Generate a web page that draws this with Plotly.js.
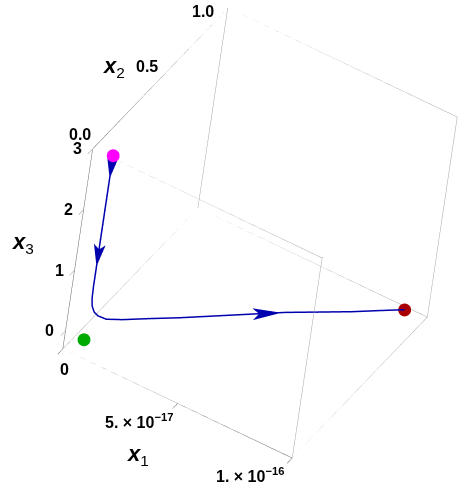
<!DOCTYPE html>
<html>
<head>
<meta charset="utf-8">
<script src="https://cdn.plot.ly/plotly-3.0.1.min.js"></script>
<style>
  html, body { margin: 0; padding: 0; background: #fff; }
  #myDiv { width: 474px; height: 499px; }
</style>
</head>
<body>
<div id="myDiv"></div>
<script>
// trajectory (x1 stays tiny, ~1e-16)
var x1 = [8e-18, 8e-18, 8e-18, 8e-18, 8e-18, 8e-18, 8e-18, 8e-18,
          8.1e-18, 8.5e-18, 9.5e-18, 1.1e-17, 1.4e-17, 1.9e-17, 2.6e-17, 3.5e-17, 4.5e-17,
          5.5e-17, 6.5e-17, 7.5e-17, 8.5e-17, 9.3e-17, 1.0e-16];
var x2 = [0.015, 0.015, 0.015, 0.015, 0.015, 0.015, 0.015, 0.015,
          0.016, 0.018, 0.022, 0.028, 0.04, 0.08, 0.15, 0.23, 0.32,
          0.41, 0.50, 0.58, 0.66, 0.73, 0.79];
var x3 = [3.0, 2.8, 2.5, 2.0, 1.5, 1.2, 1.0, 0.85,
          0.65, 0.52, 0.43, 0.38, 0.35, 0.34, 0.32, 0.31, 0.31,
          0.31, 0.31, 0.31, 0.31, 0.31, 0.31];

// arrowheads: tip position and direction
var arrowX1 = [8e-18, 8e-18, 6.4e-17];
var arrowX2 = [0.015, 0.015, 0.49];
var arrowX3 = [2.62, 1.17, 0.31];
var arrowU = [0, 0, 1e-17];
var arrowV = [0, 0, 0.09];
var arrowW = [-1, -1, 0];

// start, fixed point, end
var startPt = [8e-18, 0.015, 3.0];
var fixedPt = [8e-18, 0.0, 0.0];
var endPt = [1.0e-16, 0.79, 0.31];

var x1Range = [0, 1e-16];
var x2Range = [0, 1];
var x3Range = [-0.3, 3];

var x1Ticks = [0, 5e-17, 1e-16];
var x1TickText = ['0', '5. × 10<sup>−17</sup>', '1. × 10<sup>−16</sup>'];
var x2Ticks = [0, 0.5, 1];
var x2TickText = ['0.0', '0.5', '1.0'];
var x3Ticks = [0, 1, 2, 3];
var x3TickText = ['0', '1', '2', '3'];

var blue = 'rgb(0,0,175)';
var camEye = { x: 0.509, y: -1.097, z: 1.050 };

// box edges from the ranges; the three axis edges are darker
var X = x1Range, Y = x2Range, Z = x3Range;
function edgeTrace(list, col) {
  var ex = [], ey = [], ez = [];
  list.forEach(function (e) {
    ex.push(e[0][0], e[1][0], null); ey.push(e[0][1], e[1][1], null); ez.push(e[0][2], e[1][2], null);
  });
  return {
    type: 'scatter3d', mode: 'lines', x: ex, y: ey, z: ez,
    line: { color: col, width: 1 }, hoverinfo: 'skip', showlegend: false, connectgaps: false
  };
}
var axisEdges = [
  [[X[0], Y[0], Z[0]], [X[1], Y[0], Z[0]]],
  [[X[0], Y[0], Z[1]], [X[0], Y[1], Z[1]]],
  [[X[0], Y[0], Z[0]], [X[0], Y[0], Z[1]]]
];
var otherEdges = [
  [[X[0], Y[1], Z[0]], [X[1], Y[1], Z[0]]],
  [[X[0], Y[0], Z[1]], [X[1], Y[0], Z[1]]],
  [[X[0], Y[1], Z[1]], [X[1], Y[1], Z[1]]],
  [[X[0], Y[0], Z[0]], [X[0], Y[1], Z[0]]],
  [[X[1], Y[0], Z[0]], [X[1], Y[1], Z[0]]],
  [[X[1], Y[0], Z[1]], [X[1], Y[1], Z[1]]],
  [[X[1], Y[0], Z[0]], [X[1], Y[0], Z[1]]],
  [[X[0], Y[1], Z[0]], [X[0], Y[1], Z[1]]],
  [[X[1], Y[1], Z[0]], [X[1], Y[1], Z[1]]]
];

var path = {
  type: 'scatter3d', mode: 'lines', x: x1, y: x2, z: x3,
  line: { color: blue, width: 3 }, hoverinfo: 'skip', showlegend: false
};

// flat arrowheads facing the camera, built in box-fraction space
function arrowHeads() {
  var lo = [X[0], Y[0], Z[0]], span = [X[1] - X[0], Y[1] - Y[0], Z[1] - Z[0]];
  function norm(v) { var l = Math.sqrt(v[0] * v[0] + v[1] * v[1] + v[2] * v[2]); return [v[0] / l, v[1] / l, v[2] / l]; }
  function cross(a, b) { return [a[1] * b[2] - a[2] * b[1], a[2] * b[0] - a[0] * b[2], a[0] * b[1] - a[1] * b[0]]; }
  var view = norm([camEye.x, camEye.y, camEye.z]);
  var len = 0.11, half = 0.022, notch = 0.085;
  var mx = [], my = [], mz = [], mi = [], mj = [], mk = [];
  function put(p) {
    mx.push(lo[0] + p[0] * span[0]); my.push(lo[1] + p[1] * span[1]); mz.push(lo[2] + p[2] * span[2]);
  }
  for (var a = 0; a < arrowX1.length; a++) {
    var t = [(arrowX1[a] - lo[0]) / span[0], (arrowX2[a] - lo[1]) / span[1], (arrowX3[a] - lo[2]) / span[2]];
    var d = norm([arrowU[a] / span[0], arrowV[a] / span[1], arrowW[a] / span[2]]);
    var s = norm(cross(d, view));
    var b = [t[0] - len * d[0], t[1] - len * d[1], t[2] - len * d[2]];
    var n0 = mx.length;
    put(t);
    put([b[0] + half * s[0], b[1] + half * s[1], b[2] + half * s[2]]);
    put([t[0] - notch * d[0], t[1] - notch * d[1], t[2] - notch * d[2]]);
    put([b[0] - half * s[0], b[1] - half * s[1], b[2] - half * s[2]]);
    mi.push(n0, n0); mj.push(n0 + 1, n0 + 2); mk.push(n0 + 2, n0 + 3);
  }
  return {
    type: 'mesh3d', x: mx, y: my, z: mz, i: mi, j: mj, k: mk,
    color: blue, flatshading: true, showscale: false, hoverinfo: 'skip',
    lighting: { ambient: 1, diffuse: 0, specular: 0, roughness: 1, fresnel: 0 }
  };
}

function dot(p, col) {
  return {
    type: 'scatter3d', mode: 'markers', x: [p[0]], y: [p[1]], z: [p[2]],
    marker: { color: col, size: 7.5, line: { width: 0 } },
    hoverinfo: 'skip', showlegend: false
  };
}

var tickFont = { family: 'Liberation Sans', size: 16, color: '#000' };
var titleFont = { family: 'Liberation Sans', size: 22, color: '#000' };

// labels as scene annotations so they stay upright like the original
var notes = [];
x1Ticks.forEach(function (t, i) {
  notes.push({ x: t, y: Y[0], z: Z[0], text: '<b>' + x1TickText[i] + '</b>', showarrow: false,
    xanchor: i === 0 ? 'center' : 'right', yanchor: 'top', xshift: i === 0 ? 2 : (i === 1 ? -2 : -6), yshift: i === 0 ? -10 : -5, font: tickFont });
});
var x2Shift = [[0, 14], [0, 12], [-12, -4]];
x2Ticks.forEach(function (t, i) {
  notes.push({ x: X[0], y: t, z: Z[1], text: '<b>' + x2TickText[i] + '</b>', showarrow: false,
    xanchor: 'right', yanchor: 'middle', xshift: x2Shift[i][0], yshift: x2Shift[i][1], font: tickFont });
});
x3Ticks.forEach(function (t, i) {
  notes.push({ x: X[0], y: Y[0], z: t, text: '<b>' + x3TickText[i] + '</b>', showarrow: false,
    xanchor: 'right', yanchor: 'middle', xshift: -9, yshift: 0, font: tickFont });
});
notes.push({ x: 3.3e-17, y: Y[0], z: Z[0], text: '<b><i>x</i></b><sub>1</sub>', showarrow: false,
  xanchor: 'center', yanchor: 'middle', xshift: 0, yshift: -70, font: titleFont });
notes.push({ x: X[0], y: 0.2, z: Z[1], text: '<b><i>x</i></b><sub>2</sub>', showarrow: false,
  xanchor: 'center', yanchor: 'middle', xshift: -6, yshift: 54, font: titleFont });
notes.push({ x: X[0], y: Y[0], z: 1.45, text: '<b><i>x</i></b><sub>3</sub>', showarrow: false,
  xanchor: 'center', yanchor: 'middle', xshift: -56, yshift: 0, font: titleFont });

function axis(range, ticks, showTicks) {
  return {
    range: range, autorange: false, tickvals: ticks,
    showticklabels: false, title: { text: '' },
    showgrid: false, zeroline: false, showbackground: false, showline: false,
    ticks: showTicks ? 'outside' : '', ticklen: 5, tickcolor: 'rgb(100,100,100)',
    showspikes: false
  };
}

var data = [edgeTrace(otherEdges, 'rgb(165,165,165)'), edgeTrace(axisEdges, 'rgb(100,100,100)'),
  path, arrowHeads(), dot(startPt, 'rgb(255,0,255)'), dot(fixedPt, 'rgb(0,170,0)'), dot(endPt, 'rgb(170,0,0)')];

var layout = {
  width: 474, height: 499,
  margin: { l: 0, r: 0, t: 0, b: 0 },
  paper_bgcolor: '#fff',
  showlegend: false,
  scene: {
    domain: { x: [0.097, 1], y: [0.066, 1] },
    aspectmode: 'manual', aspectratio: { x: 1.15, y: 1.15, z: 1.15 },
    camera: {
      eye: camEye,
      up: { x: -0.407, y: 0.526, z: 0.747 },
      center: { x: 0, y: 0, z: 0 },
      projection: { type: 'orthographic' }
    },
    xaxis: axis(x1Range, x1Ticks, true),
    yaxis: axis(x2Range, x2Ticks, false),
    zaxis: axis(x3Range, x3Ticks, true),
    annotations: notes
  }
};

Plotly.newPlot('myDiv', data, layout, { displayModeBar: false });
</script>
</body>
</html>
